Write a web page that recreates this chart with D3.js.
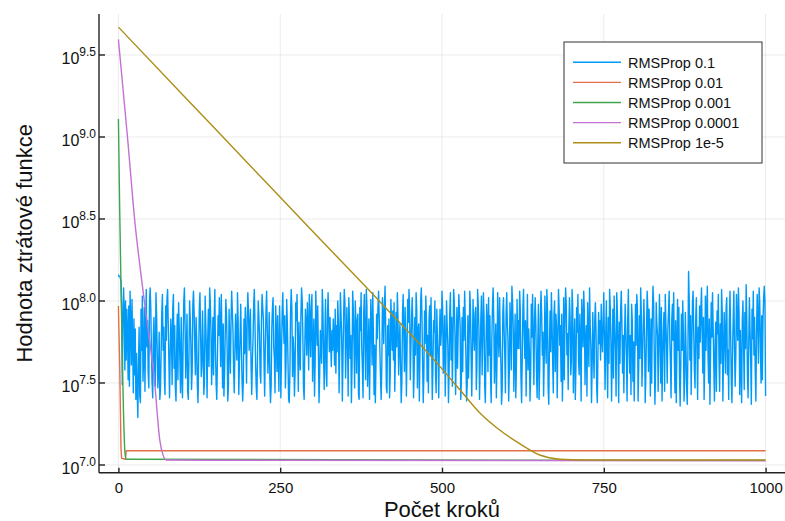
<!DOCTYPE html>
<html>
<head>
<meta charset="utf-8">
<script src="https://cdn.jsdelivr.net/npm/d3@7"></script>
<style>
  body { margin: 0; background: #fff; }
  svg { display: block; font-family: "Liberation Sans", Arial, sans-serif; }
</style>
</head>
<body>
<div id="chart"></div>
<script>
// ---- data (loss values are stored as log10) ----
const seriesNames = ["RMSProp 0.1", "RMSProp 0.01", "RMSProp 0.001", "RMSProp 0.0001", "RMSProp 1e-5"];
const seriesColors = ["#009afa", "#e36f47", "#3ea44e", "#c371d2", "#ac8e18"];

const xTicks = [0, 250, 500, 750, 1000];
const yTickExponents = ["7.0", "7.5", "8.0", "8.5", "9.0", "9.5"];

// RMSProp 0.1, one value per step (0 ... 1000)
const lr01Log = [
  8.16, 8.15, 8.15, 8.14, 8.12, 7.98, 7.49, 7.85, 8.08, 7.93, 7.58, 8.00, 7.64, 7.95, 7.82, 7.52, 7.97, 7.48, 8.06, 7.86, 7.61, 8.01, 7.73, 7.44, 7.89,
  7.55, 7.83, 7.40, 7.68, 7.46, 7.29, 7.62, 7.84, 7.42, 7.38, 7.95, 7.70, 8.03, 7.51, 7.66, 7.96, 7.45, 7.83, 8.07, 7.72, 7.88, 7.56, 7.47, 7.99, 8.08,
  7.96, 7.71, 7.50, 7.41, 7.80, 7.90, 7.59, 7.48, 8.05, 7.92, 7.67, 7.47, 7.58, 7.81, 7.40, 7.46, 7.68, 7.93, 8.04, 7.70, 7.84, 7.53, 7.43, 7.97, 7.76,
  8.01, 8.07, 7.86, 7.63, 7.41, 7.69, 7.89, 7.78, 7.49, 7.96, 8.04, 7.59, 7.85, 7.47, 7.39, 7.72, 7.92, 7.52, 7.99, 7.83, 7.64, 7.44, 7.90, 7.55, 7.41,
  7.74, 8.00, 8.08, 7.85, 7.53, 7.70, 7.92, 7.45, 7.40, 7.66, 8.00, 7.89, 7.73, 7.46, 7.58, 7.98, 8.06, 7.93, 7.71, 7.55, 7.90, 7.76, 7.48, 7.38, 7.64,
  7.96, 8.05, 7.80, 7.54, 7.61, 7.94, 7.71, 7.43, 7.52, 8.03, 7.86, 7.68, 7.41, 7.77, 7.95, 7.60, 8.08, 7.99, 7.82, 7.49, 7.67, 7.90, 7.55, 7.88, 8.07,
  7.69, 7.49, 7.40, 7.65, 7.91, 7.79, 8.02, 7.85, 7.60, 8.04, 7.75, 7.47, 7.86, 7.42, 7.55, 7.79, 8.01, 7.92, 7.71, 7.39, 7.48, 7.95, 7.73, 7.56, 7.87,
  8.06, 7.94, 7.82, 7.58, 7.44, 7.69, 7.92, 7.75, 7.64, 8.05, 7.88, 7.43, 7.62, 7.79, 7.98, 7.72, 7.52, 7.39, 7.51, 7.89, 7.68, 7.96, 7.77, 7.50, 7.90,
  8.05, 7.93, 7.70, 7.84, 7.95, 7.60, 7.43, 7.64, 7.76, 7.98, 8.07, 7.87, 7.61, 7.47, 7.40, 7.69, 8.00, 7.91, 7.79, 7.55, 7.50, 7.87, 8.04, 7.96, 7.89,
  7.62, 7.42, 7.72, 7.93, 8.06, 7.83, 7.56, 7.69, 7.93, 7.52, 7.38, 7.48, 7.83, 7.96, 8.02, 7.72, 7.65, 7.44, 7.97, 7.80, 7.57, 7.91, 7.65, 7.45, 7.97,
  7.80, 7.41, 7.67, 7.93, 8.05, 7.85, 7.74, 7.91, 7.47, 7.62, 8.01, 7.87, 7.64, 7.40, 7.38, 7.57, 7.93, 8.07, 7.96, 7.54, 7.78, 7.69, 7.42, 7.57, 7.99,
  7.88, 8.04, 7.73, 7.45, 7.87, 7.65, 7.58, 7.91, 8.08, 8.00, 7.79, 7.47, 7.40, 7.72, 7.95, 7.85, 7.67, 7.99, 7.82, 7.58, 8.04, 7.89, 7.66, 7.96, 8.04,
  7.51, 7.72, 7.89, 7.42, 7.62, 8.06, 7.88, 7.73, 7.97, 7.69, 7.38, 7.55, 7.82, 7.71, 7.62, 8.07, 7.95, 7.67, 7.46, 7.76, 8.01, 7.56, 7.48, 7.91, 8.05,
  7.86, 7.69, 7.90, 7.74, 7.60, 7.82, 7.70, 7.89, 7.78, 7.61, 7.95, 7.56, 7.85, 7.69, 8.00, 7.85, 7.44, 7.73, 8.05, 7.92, 7.77, 7.39, 7.65, 7.91, 8.07,
  7.99, 7.53, 7.72, 7.96, 7.77, 7.42, 8.02, 7.89, 7.65, 7.79, 7.38, 7.60, 8.06, 7.94, 7.74, 7.47, 8.00, 7.86, 7.56, 7.88, 7.92, 7.43, 7.40, 7.96, 7.82,
  8.05, 7.72, 7.59, 7.41, 7.92, 8.04, 7.74, 7.52, 8.07, 7.97, 7.48, 7.65, 7.89, 7.40, 7.70, 8.01, 7.85, 7.61, 8.05, 7.79, 7.43, 7.73, 7.38, 7.62, 7.92,
  7.77, 7.96, 8.06, 7.90, 7.70, 7.53, 7.40, 7.60, 8.02, 7.92, 7.74, 7.96, 8.09, 7.83, 7.47, 7.44, 7.85, 7.67, 7.89, 7.41, 7.55, 8.01, 7.88, 7.70, 7.94,
  7.64, 7.99, 7.45, 7.67, 7.93, 7.72, 8.05, 7.90, 7.55, 7.73, 7.86, 7.61, 7.38, 7.51, 7.92, 8.04, 7.78, 7.57, 7.96, 7.75, 7.42, 7.72, 8.01, 7.87, 8.07,
  7.94, 7.52, 7.72, 7.90, 8.02, 7.83, 7.41, 7.57, 7.90, 7.67, 8.05, 7.95, 7.47, 7.82, 7.86, 7.39, 7.70, 7.99, 8.08, 7.92, 7.62, 7.38, 7.55, 7.94, 7.74,
  8.03, 7.88, 7.51, 7.79, 7.44, 7.90, 7.97, 7.67, 8.02, 7.73, 7.40, 7.60, 7.88, 7.81, 8.00, 7.55, 7.44, 7.95, 7.76, 7.66, 7.41, 7.79, 7.95, 7.73, 7.81,
  8.06, 7.95, 7.56, 7.72, 7.91, 7.42, 7.66, 8.00, 7.85, 7.73, 7.38, 7.57, 7.93, 8.05, 7.64, 7.90, 7.48, 7.75, 8.07, 7.99, 7.80, 7.43, 7.68, 7.96, 7.59,
  7.82, 8.04, 7.93, 7.85, 7.40, 7.52, 7.90, 7.57, 7.96, 7.76, 8.06, 7.88, 7.64, 7.39, 7.50, 7.91, 7.53, 7.76, 8.06, 7.95, 7.67, 7.42, 7.70, 8.01, 7.80,
  7.70, 7.92, 7.96, 7.46, 7.60, 8.07, 7.98, 7.84, 7.40, 7.64, 7.89, 8.03, 7.55, 7.78, 8.05, 7.90, 7.48, 7.38, 7.72, 7.98, 7.86, 7.57, 8.02, 7.67, 7.91,
  7.55, 7.38, 7.76, 7.97, 8.08, 7.89, 7.50, 7.70, 7.86, 7.41, 7.64, 8.05, 7.79, 7.66, 8.02, 7.79, 7.62, 7.37, 7.46, 7.93, 8.02, 7.82, 7.67, 7.44, 7.91,
  8.05, 7.86, 7.76, 7.39, 7.57, 7.99, 7.86, 7.58, 8.09, 8.00, 7.85, 7.45, 7.70, 7.92, 7.41, 7.60, 8.01, 7.71, 7.88, 7.71, 8.06, 7.94, 7.54, 7.38, 7.65,
  7.95, 8.07, 7.80, 7.65, 7.88, 7.42, 7.74, 8.04, 7.58, 7.83, 7.70, 7.39, 7.56, 7.98, 7.78, 8.04, 7.74, 7.49, 7.88, 8.02, 7.86, 7.57, 7.41, 7.74, 7.98,
  7.40, 7.60, 7.90, 8.06, 7.92, 7.67, 7.81, 7.42, 7.65, 8.03, 7.77, 7.62, 8.07, 7.95, 7.47, 7.37, 7.72, 7.94, 7.69, 8.05, 7.88, 7.63, 7.44, 7.92, 8.00,
  7.57, 7.92, 7.84, 7.41, 7.73, 8.07, 7.95, 7.73, 7.85, 7.51, 7.92, 7.39, 7.61, 8.02, 7.52, 7.89, 8.08, 7.98, 7.67, 7.80, 7.46, 7.83, 8.02, 7.89, 7.55,
  7.64, 8.07, 7.96, 7.44, 7.70, 7.89, 7.40, 7.60, 7.96, 7.81, 8.04, 7.63, 7.55, 7.92, 7.75, 7.39, 8.01, 7.87, 7.72, 8.06, 7.93, 7.49, 7.75, 7.85, 7.42,
  7.99, 7.80, 7.60, 8.08, 7.85, 7.71, 7.38, 7.60, 7.93, 7.70, 7.53, 7.88, 7.99, 7.82, 7.47, 7.38, 7.70, 7.93, 7.74, 7.88, 7.64, 7.98, 7.77, 7.69, 7.88,
  8.05, 7.75, 7.46, 7.80, 8.00, 7.64, 7.41, 7.90, 7.62, 8.07, 7.96, 7.75, 7.39, 7.67, 7.95, 7.53, 8.03, 7.83, 7.70, 7.42, 8.05, 7.94, 7.71, 7.38, 7.87,
  7.62, 7.94, 8.06, 7.87, 7.56, 7.79, 7.44, 7.75, 7.98, 7.82, 7.64, 7.39, 7.90, 8.07, 7.72, 7.56, 7.79, 7.43, 7.98, 7.88, 7.51, 7.75, 7.39, 7.66, 7.98,
  7.73, 8.04, 7.95, 7.39, 7.61, 7.91, 7.65, 8.08, 7.92, 7.48, 7.67, 7.85, 8.01, 7.79, 7.38, 7.55, 7.81, 8.06, 7.95, 7.57, 7.95, 7.74, 7.42, 7.89, 7.50,
  7.89, 8.09, 7.99, 7.68, 7.37, 7.57, 7.99, 7.86, 7.79, 7.45, 7.70, 8.04, 7.83, 7.50, 7.96, 7.39, 7.66, 7.82, 7.93, 7.45, 8.04, 7.86, 7.73, 7.50, 7.83,
  7.93, 8.06, 7.76, 7.62, 7.41, 7.88, 7.98, 7.76, 8.05, 7.65, 7.44, 7.88, 7.38, 7.71, 8.01, 7.70, 7.96, 7.54, 7.36, 7.63, 7.92, 7.70, 8.00, 7.80, 7.39,
  7.53, 7.93, 7.72, 7.47, 7.37, 7.70, 8.18, 8.01, 7.64, 7.91, 7.43, 7.72, 7.99, 8.06, 7.80, 7.58, 7.47, 7.88, 8.02, 7.72, 7.40, 7.84, 7.65, 7.97, 7.75,
  7.95, 8.08, 7.80, 7.56, 7.90, 7.40, 7.63, 8.03, 7.70, 7.92, 8.09, 7.68, 7.50, 7.89, 7.37, 7.68, 7.99, 7.78, 8.05, 7.84, 7.60, 7.39, 7.75, 7.87, 7.45,
  7.94, 7.80, 8.04, 7.65, 7.45, 7.86, 7.62, 8.07, 7.94, 7.39, 7.66, 7.93, 7.79, 7.56, 7.96, 8.02, 7.55, 7.70, 7.40, 7.88, 8.06, 7.81, 7.52, 7.38, 7.70,
  7.90, 8.06, 7.70, 7.48, 7.66, 8.04, 7.85, 7.76, 8.08, 7.93, 7.43, 7.82, 7.59, 7.38, 7.88, 8.00, 7.74, 7.46, 7.93, 7.71, 8.10, 7.88, 7.54, 7.41, 7.75,
  8.02, 7.82, 7.64, 7.37, 7.95, 7.77, 8.06, 7.67, 7.90, 7.57, 7.39, 7.79, 8.04, 7.90, 7.62, 8.08, 7.99, 7.71, 7.50, 7.91, 7.52, 7.88, 8.02, 8.09, 8.00,
  7.42
];
const lr01Steps = lr01Log.map((v, i) => i);

// the other runs: read at the turning points
const lr001Steps = [0, 2, 4, 5, 11, 12, 1000];
const lr001Log   = [7.97, 7.60, 7.10, 7.04, 7.035, 7.087, 7.087];

const lr0001Steps = [0, 2, 4, 6, 8, 10, 12, 1000];
const lr0001Log   = [9.11, 8.55, 8.10, 7.65, 7.30, 7.08, 7.035, 7.028];

const lr00001Steps = [0, 14, 25, 40, 56, 64, 69, 74, 1000];
const lr00001Log   = [9.595, 9.0, 8.5, 8.0, 7.5, 7.15, 7.06, 7.03, 7.025];

const lr1e5Steps = [0, 100, 200, 300, 404, 497, 528, 559, 589, 620, 651, 682, 720, 1000];
const lr1e5Log   = [9.67, 9.255, 8.84, 8.425, 7.996, 7.60, 7.457, 7.315, 7.213, 7.13, 7.061, 7.035, 7.03, 7.03];

const allSteps = [lr01Steps, lr001Steps, lr0001Steps, lr00001Steps, lr1e5Steps];
const allLog = [lr01Log, lr001Log, lr0001Log, lr00001Log, lr1e5Log];

// ---- chart ----
const width = 785, height = 521;
const plot = { left: 99, right: 785, top: 14, bottom: 472.7 };

const svg = d3.select("#chart")
    .append("svg")
    .attr("width", width)
    .attr("height", height);

const x = d3.scaleLinear()
    .domain([-30, 1030])
    .range([plot.left, plot.right]);

const y = d3.scaleLog()
    .domain([10 ** 6.953, 10 ** 9.75])
    .range([plot.bottom, plot.top]);

// grid
const grid = svg.append("g")
    .attr("stroke", "#000")
    .attr("stroke-opacity", 0.08)
    .attr("stroke-width", 1);

grid.selectAll("line.vx")
    .data(xTicks)
    .join("line")
    .attr("x1", d => x(d)).attr("x2", d => x(d))
    .attr("y1", plot.top).attr("y2", plot.bottom);

grid.selectAll("line.hy")
    .data(yTickExponents)
    .join("line")
    .attr("class", "hy")
    .attr("x1", plot.left).attr("x2", plot.right)
    .attr("y1", d => y(10 ** +d)).attr("y2", d => y(10 ** +d));

// series
const line = d3.line()
    .x(d => x(d[0]))
    .y(d => y(10 ** d[1]));

svg.append("g")
    .attr("fill", "none")
    .attr("stroke-linejoin", "round")
    .selectAll("path")
    .data(allSteps.map((steps, k) => steps.map((s, i) => [s, allLog[k][i]])))
    .join("path")
    .attr("stroke", (d, i) => seriesColors[i])
    .attr("stroke-width", 1.4)
    .attr("d", (d, i) => (i < 2 ? line.curve(d3.curveLinear) : line.curve(d3.curveMonotoneX))(d));

// axes
const xAxis = g => g
    .attr("transform", `translate(0,${plot.bottom})`)
    .call(d3.axisBottom(x).tickValues(xTicks).tickFormat(d3.format("d"))
        .tickSizeInner(-5).tickSizeOuter(0).tickPadding(10))
    .call(g => g.select(".domain").attr("d", `M${plot.left},0H${plot.right}`))
    .call(g => g.selectAll("line, path").attr("stroke", "#222").attr("stroke-width", 1.4))
    .call(g => g.selectAll(".tick text")
        .attr("font-size", 15)
        .attr("fill", "#111"));

svg.append("g").call(xAxis);

const yAxis = svg.append("g")
    .attr("transform", `translate(${plot.left},0)`);

yAxis.append("path")
    .attr("d", `M0,${plot.top}V${plot.bottom}`)
    .attr("stroke", "#222")
    .attr("stroke-width", 1.4);

const yTick = yAxis.selectAll("g.tick")
    .data(yTickExponents)
    .join("g")
    .attr("class", "tick")
    .attr("transform", d => `translate(0,${y(10 ** +d)})`);

yTick.append("line")
    .attr("x2", 6)
    .attr("stroke", "#222")
    .attr("stroke-width", 1.4);

const yLabel = yTick.append("text")
    .attr("x", -3)
    .attr("text-anchor", "end")
    .attr("fill", "#111");

yLabel.append("tspan")
    .attr("font-size", 16)
    .attr("dy", 9)
    .text("10");

yLabel.append("tspan")
    .attr("font-size", 12)
    .attr("dy", -8)
    .text(d => d);

// axis titles
svg.append("text")
    .attr("x", (plot.left + plot.right) / 2)
    .attr("y", 517)
    .attr("text-anchor", "middle")
    .attr("font-size", 22)
    .attr("fill", "#111")
    .text("Počet kroků");

svg.append("text")
    .attr("transform", `translate(32,${(plot.top + plot.bottom) / 2}) rotate(-90)`)
    .attr("text-anchor", "middle")
    .attr("font-size", 22)
    .attr("fill", "#111")
    .text("Hodnota ztrátové funkce");

// legend
const legend = svg.append("g")
    .attr("transform", "translate(564,42)");

legend.append("rect")
    .attr("width", 198)
    .attr("height", 121)
    .attr("fill", "#fff")
    .attr("stroke", "#333")
    .attr("stroke-width", 1);

const item = legend.selectAll("g.item")
    .data(seriesNames)
    .join("g")
    .attr("class", "item")
    .attr("transform", (d, i) => `translate(0,${20.3 + i * 20.1})`);

item.append("line")
    .attr("x1", 9).attr("x2", 57)
    .attr("stroke", (d, i) => seriesColors[i])
    .attr("stroke-width", 1.4);

item.append("text")
    .attr("x", 64)
    .attr("dy", "0.36em")
    .attr("font-size", 14.5)
    .attr("fill", "#111")
    .text(d => d);
</script>
</body>
</html>
